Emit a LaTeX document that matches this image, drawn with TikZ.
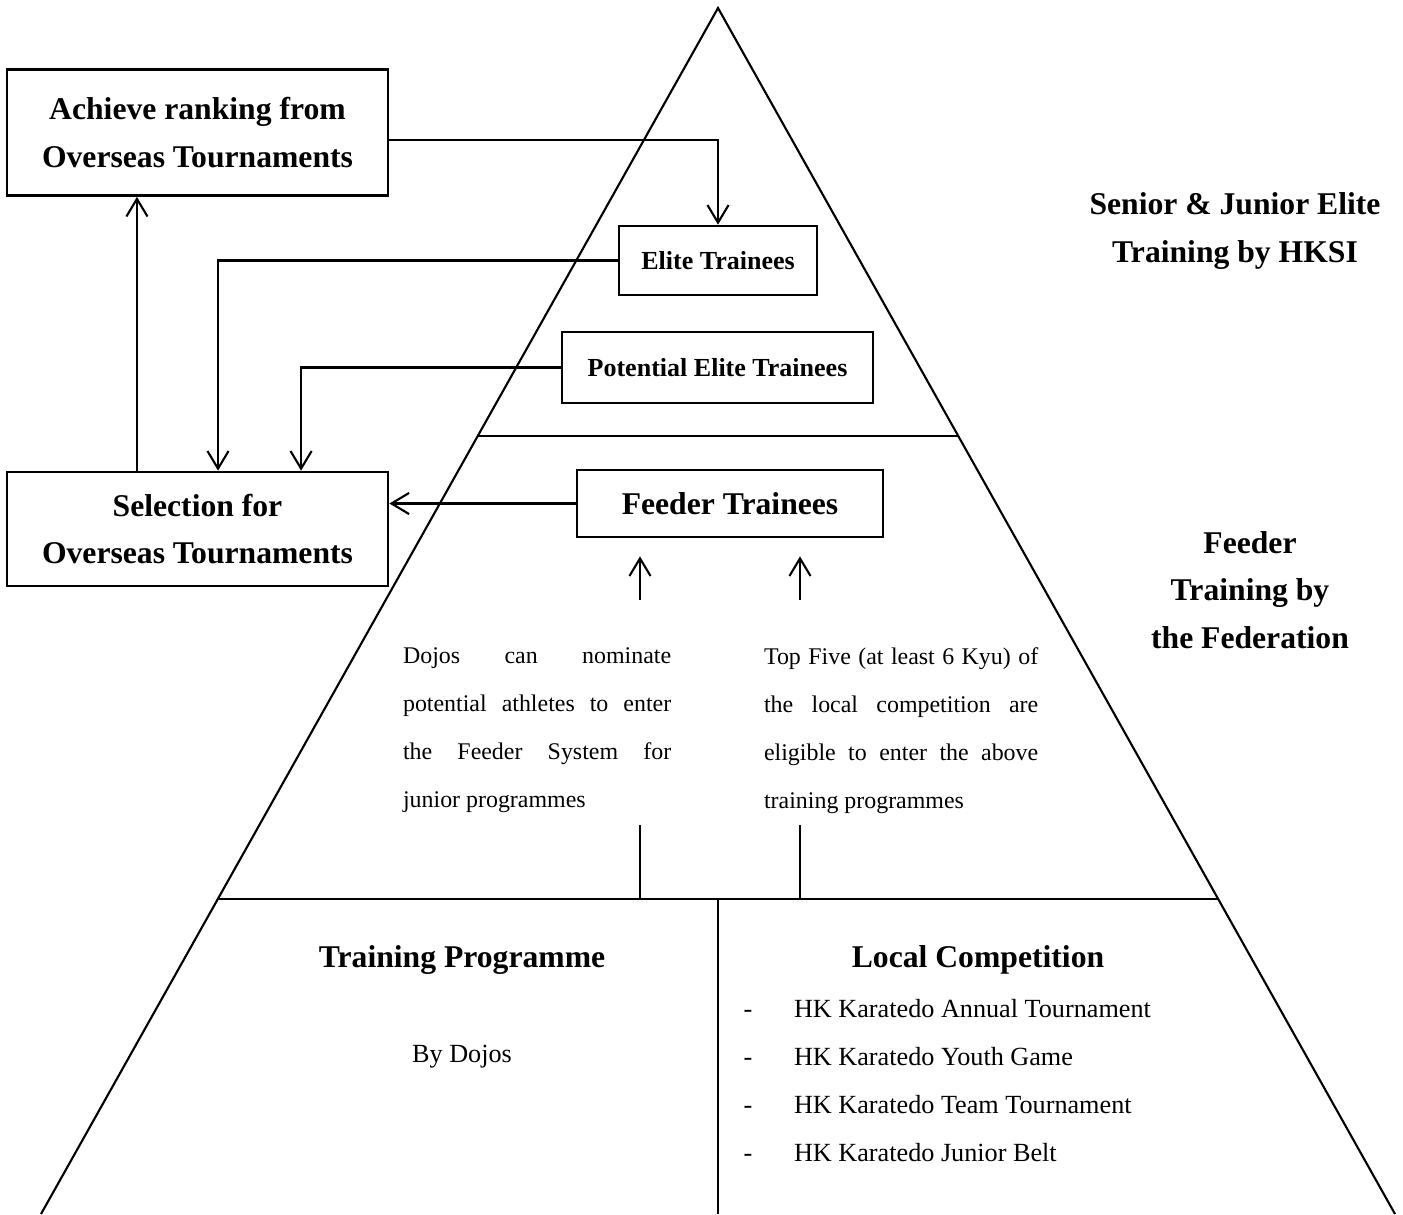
\documentclass[tikz,border=0pt]{standalone}
\usepackage{fontspec}
\setmainfont{Liberation Serif}
\usepackage{tikz}
\usetikzlibrary{arrows.meta, positioning, calc}
\newcommand{\nohyph}{\hyphenpenalty=10000\relax\exhyphenpenalty=10000\relax}

\begin{document}
\begin{tikzpicture}[x=0.01cm, y=-0.01cm, line width=0.6pt,
  box/.style={draw, line width=0.75pt, align=center, inner sep=0pt},
  bigtext/.style={font=\fontsize{9}{13.6}\selectfont\bfseries, align=center},
  smallbold/.style={font=\fontsize{7.4}{9}\selectfont\bfseries},
  para/.style={font=\fontsize{6.8}{13.6}\selectfont\nohyph,
    align=justify, inner sep=0pt, anchor=north west},
  entry/.style={font=\fontsize{7.45}{9}\selectfont, inner sep=0pt},
  flow/.style={-{Straight Barb[length=5pt,width=6pt]}}]
\useasboundingbox (0,0) rectangle (1403,1214);

% Pyramid
\coordinate (apex) at (718,8);
\coordinate (bl) at (41,1214);
\coordinate (br) at (1395,1214);
\draw (bl) -- (apex) -- (br);
\draw ($(apex)!0.3549!(bl)$) -- ($(apex)!0.3549!(br)$);
\draw ($(apex)!0.7388!(bl)$) -- ($(apex)!0.7388!(br)$);
\draw (718,899) -- (718,1214);

% Boxes
\node[box, bigtext, minimum width=3.81cm, minimum height=1.26cm] (achieve) at (197.5,132.5)
  {Achieve ranking from\\Overseas Tournaments};
\node[box, bigtext, minimum width=3.81cm, minimum height=1.14cm] (select) at (197.5,529)
  {Selection for\\Overseas Tournaments};
\node[box, smallbold, minimum width=1.98cm, minimum height=0.69cm] (elite) at (718,260.5)
  {Elite Trainees};
\node[box, smallbold, minimum width=3.11cm, minimum height=0.71cm] (potential) at (717.5,367.5)
  {Potential Elite Trainees};
\node[box, bigtext, minimum width=3.06cm, minimum height=0.67cm] (feeder) at (730,503.5)
  {Feeder Trainees};

% Level labels
\node[bigtext] (hksi) at (1235,231) {Senior \& Junior Elite\\Training by HKSI};
\node[bigtext] (federation) at (1250,590) {Feeder\\Training by\\the Federation};

% Connectors
\draw[flow] ([yshift=-0.075cm]achieve.east) -| (elite.north);
\draw[flow] (elite.west) -| ([xshift=0.205cm]select.north);
\draw[flow] (potential.west) -| ([xshift=1.035cm]select.north);
\draw[flow] ([xshift=-0.605cm]select.north) -- ([xshift=-0.605cm]achieve.south);
\draw[flow] (feeder.west) -- (select.east |- feeder.west);

% Routes into the feeder system
\coordinate (dojoin) at (640,600);
\coordinate (compin) at (800,600);
\draw[flow, shorten >=0.18cm] (dojoin) -- (dojoin |- feeder.south);
\draw[flow, shorten >=0.18cm] (compin) -- (compin |- feeder.south);
\node[para, text width=2.68cm] (dojotext) at (402,647)
  {Dojos can nominate potential athletes to enter the Feeder System for junior programmes};
\node[para, text width=2.74cm] (comptext) at (763,647)
  {Top Five (at least 6 Kyu) of\linebreak the local competition are eligible to enter the above training programmes};
\coordinate (dojoout) at (640,825);
\coordinate (compout) at (800,825);
\draw (dojoout) -- (640,899);
\draw (compout) -- (800,899);

% Base
\node[bigtext] (programme) at (462,960) {Training Programme};
\node[entry] (bydojos) at (462,1057) {By Dojos};
\node[bigtext] (local) at (978,960) {Local Competition};
\node[entry, anchor=base] (dash1) at (748,1017) {-};
\node[entry, anchor=base west] (comp1) at (793,1017) {HK Karatedo Annual Tournament};
\node[entry, anchor=base] (dash2) at (748,1065) {-};
\node[entry, anchor=base west] (comp2) at (793,1065) {HK Karatedo Youth Game};
\node[entry, anchor=base] (dash3) at (748,1113) {-};
\node[entry, anchor=base west] (comp3) at (793,1113) {HK Karatedo Team Tournament};
\node[entry, anchor=base] (dash4) at (748,1161) {-};
\node[entry, anchor=base west] (comp4) at (793,1161) {HK Karatedo Junior Belt};
\end{tikzpicture}
\end{document}
